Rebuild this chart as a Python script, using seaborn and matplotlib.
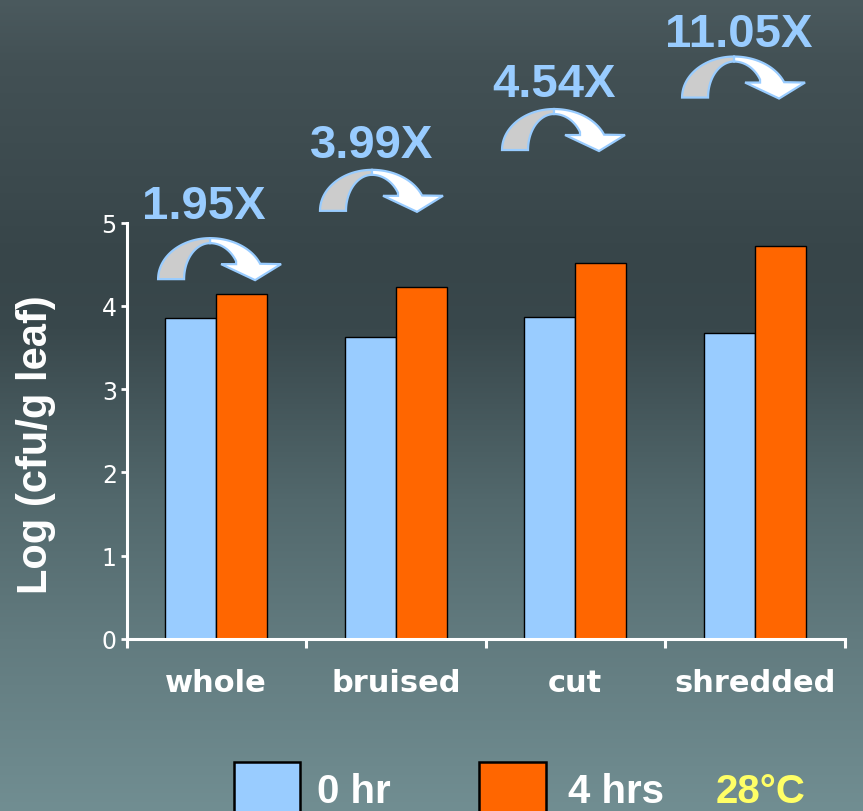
import numpy as np
import pandas as pd
import matplotlib
matplotlib.use("Agg")
import matplotlib.pyplot as plt
import seaborn as sns
from matplotlib.patches import Polygon, Rectangle
from matplotlib.transforms import Affine2D, ScaledTranslation, IdentityTransform

# ---- data -------------------------------------------------------------
treatments = ["whole", "bruised", "cut", "shredded"]
times = ["0 hr", "4 hrs"]
log_0hr = [3.85, 3.62, 3.86, 3.67]          # Log (cfu/g leaf) at 0 hr
fold_change = [1.95, 3.99, 4.54, 11.05]     # increase after 4 hrs
log_4hr = [b + np.log10(f) for b, f in zip(log_0hr, fold_change)]
fold_labels = [f"{f:.2f}X" for f in fold_change]
y_ticks = [0, 1, 2, 3, 4, 5]
temperature = "28°C"

# ---- layout (not data) ------------------------------------------------
W, H, DPI = 863, 812, 100
arrow_dx = [-0.012, -0.110, -0.096, -0.093]   # arrow anchor offset from category
arrow_y = [4.32, 5.14, 5.87, 6.50]            # arrow foot height (axis units)
note_dx = [-0.068, -0.132, -0.121, -0.088]
note_y = [5.05, 5.79, 6.52, 7.12]

C_0HR = "#99CCFF"
C_4HR = "#FF6600"
C_NOTE = "#99CCFF"

df = pd.DataFrame({
    "treatment": treatments * 2,
    "time": [times[0]] * 4 + [times[1]] * 4,
    "log_cfu": log_0hr + log_4hr,
})

sns.set_theme(style="white")
plt.rcParams["font.family"] = ["Liberation Sans", "DejaVu Sans"]

fig = plt.figure(figsize=(W / DPI, H / DPI), dpi=DPI)

# vertical slate-to-teal background
bg = fig.add_axes([0, 0, 1, 1], zorder=0)
stops_y = [0, 60, 260, 330, 500, 640, 812]
stops_rgb = np.array([
    (75, 90, 94), (67, 81, 85), (55, 69, 73), (57, 72, 76),
    (82, 104, 108), (98, 123, 127), (113, 142, 146)]) / 255.0
rows = np.arange(H)
grad = np.stack([np.interp(rows, stops_y, stops_rgb[:, k]) for k in range(3)], axis=-1)
bg.imshow(grad[:, None, :], aspect="auto", extent=[0, 1, 0, 1], origin="upper")
bg.axis("off")

ax = fig.add_axes([126.5 / W, 172 / H, 718 / W, 416.5 / H], zorder=1)
ax.set_facecolor("none")

sns.barplot(data=df, x="treatment", y="log_cfu", hue="time",
            order=treatments, hue_order=times,
            palette=[C_0HR, C_4HR], saturation=1, width=0.568, gap=0,
            edgecolor="black", linewidth=1.0, errorbar=None,
            legend=False, ax=ax)

ax.set_xlim(-0.5, len(treatments) - 0.5)
ax.set_ylim(0, 5)
ax.set_yticks(y_ticks)
ax.set_xlabel("")
ax.set_ylabel("")

# group boundaries carry the tick marks, category names sit between them
bounds = np.arange(len(treatments) + 1) - 0.5
ax.set_xticks(bounds, labels=[""] * len(bounds))
ax.set_xticks(np.arange(len(treatments)), labels=treatments, minor=True)

for s in ["top", "right"]:
    ax.spines[s].set_visible(False)
for s in ["left", "bottom"]:
    ax.spines[s].set_color("white")
    ax.spines[s].set_linewidth(2.2)

ax.tick_params(axis="x", which="major", bottom=True, length=6.5, width=2.2,
               color="white", direction="out")
ax.tick_params(axis="x", which="minor", bottom=True, length=0, pad=21,
               labelsize=22, labelcolor="white")
ax.tick_params(axis="y", left=True, length=4, width=2, color="white",
               direction="out", pad=3, labelsize=17, labelcolor="white")
for lbl in ax.get_xticklabels(minor=True):
    lbl.set_fontfamily("DejaVu Sans")
    lbl.set_fontweight("bold")
for lbl in ax.get_yticklabels():
    lbl.set_fontfamily("DejaVu Sans")

fig.text(36 / W, 367.5 / H, "Log (cfu/g leaf)", rotation=90, ha="center",
         va="center", fontsize=30, fontweight="bold", color="white")


# curved "growth" arrow, drawn in pixel units around an anchor in data space
def ellipse_pts(cx, a, b, t0, t1, n=40):
    t = np.radians(np.linspace(t0, t1, n))
    return np.column_stack([cx + a * np.cos(t), b * np.sin(t)])


def curved_arrow(ax, x, y):
    cx = -4
    back = np.vstack([
        ellipse_pts(cx, 52, 41, 90, 180),
        [[-30, 0]],
        ellipse_pts(cx, 26, 36, 180, 90),
    ])
    front = np.vstack([
        ellipse_pts(cx, 54, 41, 90, 22),
        [[67, 15], [41, -1], [7, 15], [22, 15]],
        ellipse_pts(cx, 30, 36, 30, 90),
    ])
    trans = Affine2D() + ScaledTranslation(x, y, ax.transData)
    for pts, fc, z in [(back, "#CCCCCC", 5), (front, "white", 6)]:
        poly = Polygon(pts, closed=True, facecolor=fc, edgecolor=C_NOTE,
                       linewidth=1.6, transform=trans, clip_on=False, zorder=z)
        ax.add_artist(poly)


for i, lab in enumerate(fold_labels):
    curved_arrow(ax, i + arrow_dx[i], arrow_y[i])
    ax.text(i + note_dx[i], note_y[i], lab, ha="center", va="baseline",
            fontsize=34, fontweight="bold", color=C_NOTE, clip_on=False)

# legend row along the bottom edge
ident = IdentityTransform()
for x0, col in [(233.5, C_0HR), (479, C_4HR)]:
    fig.add_artist(Rectangle((x0, -20), 66.5, 69, facecolor=col,
                             edgecolor="black", linewidth=1.8, transform=ident))
for x0, txt, col in [(317, times[0], "white"), (568, times[1], "white"),
                     (716, temperature, "#FFFF66")]:
    fig.text(x0 / W, 9 / H, txt, ha="left", va="baseline", fontsize=29,
             fontweight="bold", color=col)

fig.savefig("out.png", dpi=DPI)
